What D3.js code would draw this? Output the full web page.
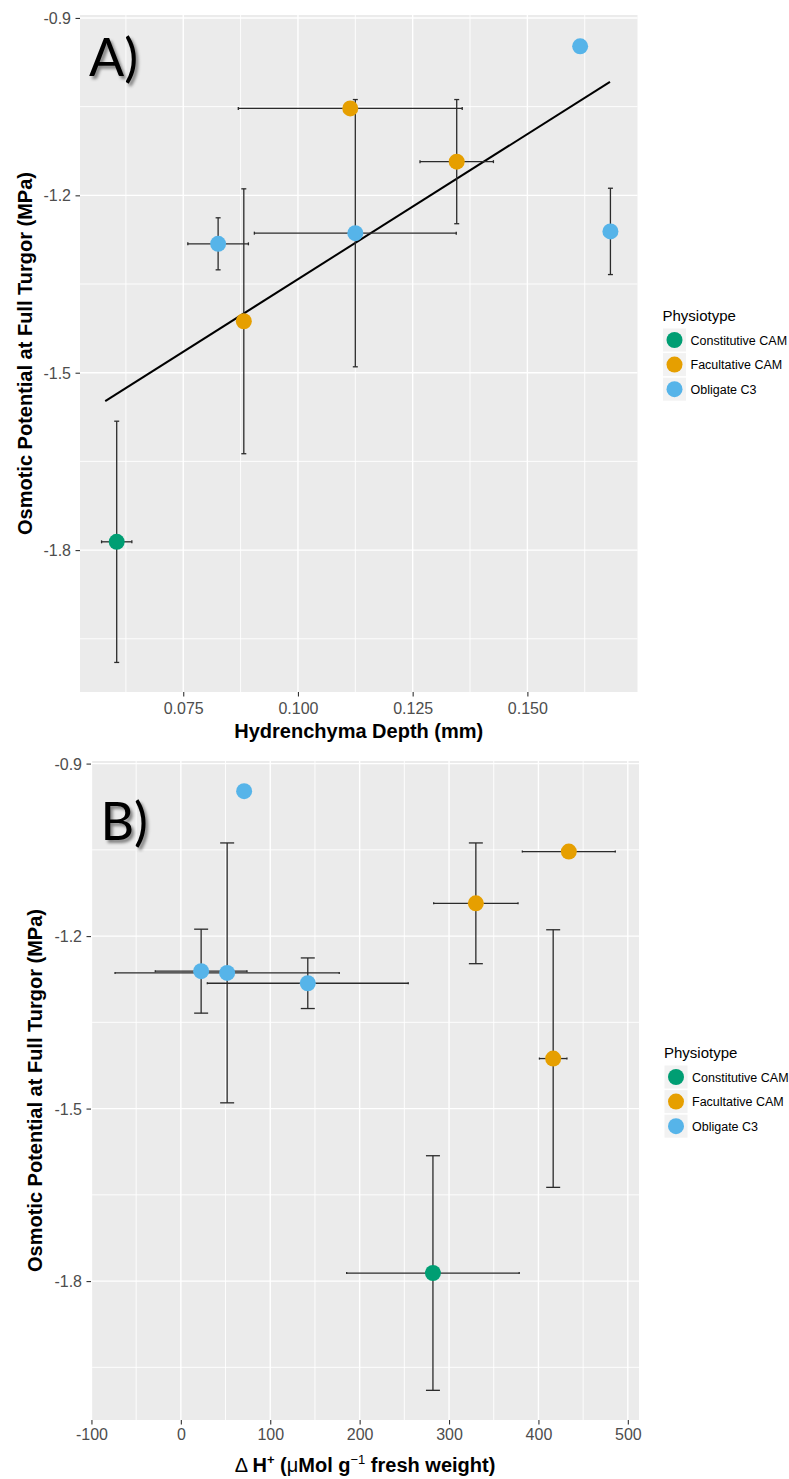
<!DOCTYPE html>
<html>
<head>
<meta charset="utf-8">
<script src="https://cdn.jsdelivr.net/npm/d3@7"></script>
<style>
  html, body { margin: 0; padding: 0; background: #fff; }
  svg { display: block; }
</style>
</head>
<body>
<svg id="chart" width="789" height="1479"></svg>
<script>
// Physiotype groups and their colours
const physiotypes = ["Constitutive CAM", "Facultative CAM", "Obligate C3"];
const physiotypeColors = ["#009E73", "#E69F00", "#56B4E9"];

// One entry per species (same order in every array)
const speciesType = [0, 1, 2, 1, 2, 1, 2, 2];
const osmoticPotential = [-1.786, -1.413, -1.282, -1.053, -1.264, -1.143, -0.948, -1.261];
const osmoticSE = [0.204, 0.224, 0.044, 0, 0.226, 0.105, 0, 0.073];
const hydrenchymaDepth = [0.0605, 0.0882, 0.0826, 0.1114, 0.1125, 0.1346, 0.1615, 0.1681];
const hydrenchymaSE = [0.0033, 0, 0.0066, 0.0244, 0.022, 0.008, 0, 0];
const deltaH = [282, 416.5, 142, 434, 51.8, 330, 70.8, 22.7];
const deltaHSE = [96.5, 15.4, 112.4, 52, 125.4, 47.2, 0, 51.3];

// Linear fit of osmotic potential on hydrenchyma depth (end points)
const fitDepth = [0.058, 0.168];
const fitOsmotic = [-1.548, -1.008];

// Axis ticks
const yTicks = [-0.9, -1.2, -1.5, -1.8];
const yMinor = [-1.05, -1.35, -1.65, -1.95];
const depthTicks = [0.075, 0.100, 0.125, 0.150];
const depthMinor = [0.0625, 0.0875, 0.1125, 0.1375, 0.1625];
const deltaHTicks = [-100, 0, 100, 200, 300, 400, 500];
const deltaHMinor = [-50, 50, 150, 250, 350, 450];

const svg = d3.select("#chart");
const FONT = "'Liberation Sans', Arial, sans-serif";

// number formats using a plain hyphen for negatives
const hyphen = f => d => f(d).replace("\u2212", "-");

const defs = svg.append("defs");
defs.append("filter").attr("id", "shadow")
  .attr("x", "-20%").attr("y", "-20%").attr("width", "160%").attr("height", "160%")
  .append("feDropShadow")
  .attr("dx", 2.5).attr("dy", 3).attr("stdDeviation", 1.8)
  .attr("flood-color", "#000").attr("flood-opacity", 0.45);

function drawPanel(cfg) {
  const g = svg.append("g");
  const x = d3.scaleLinear().domain(cfg.xDomain).range([cfg.left, cfg.right]);
  const y = d3.scaleLinear().domain(cfg.yDomain).range([cfg.bottom, cfg.top]);

  // panel background
  g.append("rect")
    .attr("x", cfg.left).attr("y", cfg.top)
    .attr("width", cfg.right - cfg.left).attr("height", cfg.bottom - cfg.top)
    .attr("fill", "#EBEBEB");

  // grid lines
  const grid = g.append("g");
  grid.selectAll(".xminor").data(cfg.xMinor).join("line")
    .attr("x1", d => x(d)).attr("x2", d => x(d))
    .attr("y1", cfg.top).attr("y2", cfg.bottom)
    .attr("stroke", "#fff").attr("stroke-width", 0.9);
  grid.selectAll(".yminor").data(yMinor).join("line")
    .attr("y1", d => y(d)).attr("y2", d => y(d))
    .attr("x1", cfg.left).attr("x2", cfg.right)
    .attr("stroke", "#fff").attr("stroke-width", 0.9);
  grid.selectAll(".xmajor").data(cfg.xTicks).join("line")
    .attr("x1", d => x(d)).attr("x2", d => x(d))
    .attr("y1", cfg.top).attr("y2", cfg.bottom)
    .attr("stroke", "#fff").attr("stroke-width", 1.4);
  grid.selectAll(".ymajor").data(yTicks).join("line")
    .attr("y1", d => y(d)).attr("y2", d => y(d))
    .attr("x1", cfg.left).attr("x2", cfg.right)
    .attr("stroke", "#fff").attr("stroke-width", 1.4);

  // axes
  const xAxis = d3.axisBottom(x).tickValues(cfg.xTicks).tickFormat(hyphen(cfg.xFormat))
    .tickSize(4.5).tickPadding(cfg.xPad);
  const yAxis = d3.axisLeft(y).tickValues(yTicks).tickFormat(hyphen(d3.format(".1f")))
    .tickSize(4.5).tickPadding(4.5);
  const gx = g.append("g").attr("transform", `translate(0,${cfg.bottom})`).call(xAxis);
  const gy = g.append("g").attr("transform", `translate(${cfg.left},0)`).call(yAxis);
  [gx, gy].forEach(ax => {
    ax.select(".domain").remove();
    ax.selectAll(".tick line").attr("stroke", "#333").attr("stroke-width", 1.1);
    ax.selectAll(".tick text").attr("fill", "#4D4D4D")
      .style("font-family", FONT).style("font-size", "16px");
  });
  gy.selectAll(".tick text").attr("dy", "0.35em");

  // fitted line
  if (cfg.fit) {
    g.append("line")
      .attr("x1", x(cfg.fit.x[0])).attr("y1", y(cfg.fit.y[0]))
      .attr("x2", x(cfg.fit.x[1])).attr("y2", y(cfg.fit.y[1]))
      .attr("stroke", "#000").attr("stroke-width", 2);
  }

  const idx = d3.range(osmoticPotential.length);
  const eb = g.append("g").attr("stroke", "#2b2b2b").attr("stroke-width", 1.3).attr("fill", "none");

  // vertical error bars
  idx.filter(i => osmoticSE[i] > 0).forEach(i => {
    const cx = x(cfg.xVals[i]);
    const y1 = y(osmoticPotential[i] + osmoticSE[i]);
    const y2 = y(osmoticPotential[i] - osmoticSE[i]);
    eb.append("line").attr("x1", cx).attr("x2", cx).attr("y1", y1).attr("y2", y2);
    [y1, y2].forEach(yy => eb.append("line")
      .attr("x1", cx - cfg.vCap).attr("x2", cx + cfg.vCap).attr("y1", yy).attr("y2", yy));
  });

  // horizontal error bars
  idx.filter(i => cfg.xErr[i] > 0).forEach(i => {
    const cy = y(osmoticPotential[i]);
    const x1 = x(cfg.xVals[i] - cfg.xErr[i]);
    const x2 = x(cfg.xVals[i] + cfg.xErr[i]);
    eb.append("line").attr("x1", x1).attr("x2", x2).attr("y1", cy).attr("y2", cy);
    [x1, x2].forEach(xx => eb.append("line")
      .attr("x1", xx).attr("x2", xx).attr("y1", cy - cfg.hCap).attr("y2", cy + cfg.hCap));
  });

  // points
  g.append("g").selectAll("circle").data(idx).join("circle")
    .attr("cx", i => x(cfg.xVals[i]))
    .attr("cy", i => y(osmoticPotential[i]))
    .attr("r", 8)
    .attr("fill", i => physiotypeColors[speciesType[i]]);

  // panel letter
  g.append("text")
    .attr("x", cfg.letterX).attr("y", cfg.letterY)
    .attr("filter", "url(#shadow)")
    .style("font-family", "Lato, 'Open Sans', sans-serif")
    .style("font-size", "52px")
    .attr("fill", "#000")
    .text(cfg.letter);

  // axis titles
  g.append("text")
    .attr("transform", `translate(${cfg.yTitleX},${(cfg.top + cfg.bottom) / 2}) rotate(-90)`)
    .attr("text-anchor", "middle")
    .style("font-family", FONT).style("font-size", "20px").style("font-weight", "bold")
    .text("Osmotic Potential at Full Turgor (MPa)");
  const xt = g.append("text")
    .attr("x", (cfg.left + cfg.right) / 2).attr("y", cfg.xTitleY)
    .attr("text-anchor", "middle")
    .style("font-family", FONT).style("font-size", "20px").style("font-weight", "bold");
  cfg.xTitle(xt);

  // legend
  const lg = g.append("g").attr("transform", `translate(${cfg.legendX},${cfg.legendY})`);
  lg.append("text").attr("x", 0).attr("y", 0)
    .style("font-family", FONT).style("font-size", "15px").attr("fill", "#000")
    .text("Physiotype");
  physiotypes.forEach((p, k) => {
    const cy = 19 + k * 24.6;
    lg.append("rect").attr("x", 0.5).attr("y", cy - 11.5).attr("width", 23).attr("height", 23)
      .attr("fill", "#F2F2F2");
    lg.append("circle").attr("cx", 12).attr("cy", cy).attr("r", 8)
      .attr("fill", physiotypeColors[k]);
    lg.append("text").attr("x", 28).attr("y", cy + 4.5)
      .style("font-family", FONT).style("font-size", "12.5px").attr("fill", "#000")
      .text(p);
  });
}

// Panel A: hydrenchyma depth
drawPanel({
  left: 80, right: 637.5, top: 15, bottom: 692,
  xDomain: [0.0525, 0.174], yDomain: [-2.04, -0.895],
  xTicks: depthTicks, xMinor: depthMinor, xFormat: d3.format(".3f"), xPad: 6.5,
  xVals: hydrenchymaDepth, xErr: hydrenchymaSE,
  vCap: 2.5, hCap: 1.5,
  fit: { x: fitDepth, y: fitOsmotic },
  letter: "A)", letterX: 89, letterY: 76,
  yTitleX: 32, xTitleY: 738,
  xTitle: t => t.text("Hydrenchyma Depth (mm)"),
  legendX: 662.5, legendY: 321
});

// Panel B: nocturnal acid accumulation
drawPanel({
  left: 91, right: 639, top: 761, bottom: 1420,
  xDomain: [-100.5, 512.5], yDomain: [-2.0416, -0.8955],
  xTicks: deltaHTicks, xMinor: deltaHMinor, xFormat: d3.format("d"), xPad: 4.5,
  xVals: deltaH, xErr: deltaHSE,
  vCap: 7, hCap: 1,
  fit: null,
  letter: "B)", letterX: 100.5, letterY: 840,
  yTitleX: 41.5, xTitleY: 1472,
  xTitle: t => {
    t.append("tspan").style("font-weight", "normal").text("\u0394 ");
    t.append("tspan").text("H");
    t.append("tspan").attr("dy", -8).style("font-size", "13px").text("+");
    t.append("tspan").attr("dy", 8).text(" (");
    t.append("tspan").style("font-weight", "normal").text("\u03BC");
    t.append("tspan").text("Mol g");
    t.append("tspan").attr("dy", -8).style("font-size", "13px").style("font-weight", "normal").text("\u22121");
    t.append("tspan").attr("dy", 8).text(" fresh weight)");
  },
  legendX: 664, legendY: 1058
});
</script>
</body>
</html>
